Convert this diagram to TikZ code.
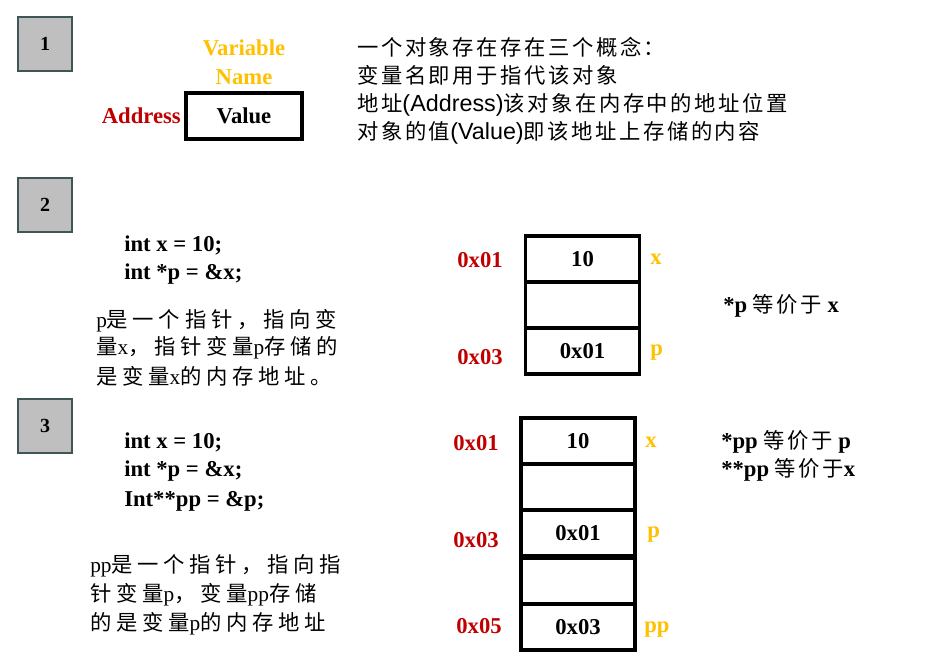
\documentclass[tikz,border=0pt]{standalone}
\usepackage{fontspec}
\setmainfont{Liberation Serif}
\newfontfamily\arial{Liberation Sans}
\newfontfamily\cjk[LetterSpace=12]{Noto Sans CJK SC}
\newfontfamily\cjkwide[LetterSpace=22]{Noto Sans CJK SC}
\usetikzlibrary{positioning}

\definecolor{addrred}{RGB}{192,0,0}
\definecolor{namegold}{RGB}{255,192,0}
\definecolor{stepgray}{RGB}{191,191,191}
\definecolor{stepedge}{RGB}{64,86,86}

\tikzset{
  numbox/.style={draw=stepedge, fill=stepgray, line width=1pt, minimum width=40.5pt,
    minimum height=40.5pt, inner sep=0pt, font=\fontsize{15}{18}\selectfont\bfseries},
  cell/.style={draw, line width=2.3pt, minimum width=85.5pt, minimum height=34.5pt,
    inner sep=0pt, outer sep=0pt, font=\fontsize{17}{20}\selectfont\bfseries},
  addr/.style={text=addrred, inner sep=0pt, font=\fontsize{17}{20}\selectfont\bfseries},
  varname/.style={text=namegold, inner sep=0pt, font=\fontsize{17}{20}\selectfont\bfseries},
  code/.style={anchor=west, inner sep=0pt, font=\fontsize{17}{20}\selectfont\bfseries},
  concept/.style={anchor=west, inner sep=0pt, font=\fontsize{16}{20}\selectfont\cjk},
  note/.style={anchor=west, inner sep=0pt, font=\fontsize{16}{20}\selectfont},
}

\newcommand{\lat}[1]{{\arial\fontsize{17.5}{20}\selectfont #1}}
\newcommand{\zh}[1]{{\cjkwide #1}}
\newcommand{\zheq}[1]{{\cjk\mdseries\fontsize{16}{20}\selectfont #1}}

\begin{document}
\begin{tikzpicture}[x=0.75pt, y=-0.75pt]
  \useasboundingbox (0,0) rectangle (942,661);

  % step boxes
  \node[numbox] (one) at (45,44) {1};
  \node[numbox] (two) at (45,205) {2};
  \node[numbox] (three) at (45,426) {3};

  % part 1: name, address and value
  \node[varname, align=center] (vname) at (244,62) {Variable\\[1.5pt]Name};
  \node[cell, minimum width=87pt] (value) at (244,116) {Value};
  \node[addr, anchor=east] (vaddr) at (181,116) {Address};

  \node[concept] (c1) at (357,47) {一个对象存在存在三个概念：};
  \node[concept] (c2) at (357,75) {变量名即用于指代该对象};
  \node[concept] (c3) at (357,105) {地址\lat{(Address)}该对象在内存中的地址位置};
  \node[concept] (c4) at (357,133) {对象的值\lat{(Value)}即该地址上存储的内容};

  % part 2: pointer p
  \node[code] (code2a) at (124,245) {int x = 10;};
  \node[code] (code2b) at (124,274) {int *p = \&x;};

  \node[note] (note2a) at (96,321) {p\zh{是一个指针，指向变}};
  \node[note] (note2b) at (96,348) {\zh{量}x\zh{，指针变量}p\zh{存储的}};
  \node[note] (note2c) at (96,376) {\zh{是变量}x\zh{的内存地址。}};

  \node[cell] (m2a) at (582.5,259) {10};
  \node[cell, below=0pt of m2a] (m2b) {};
  \node[cell, below=0pt of m2b] (m2c) {0x01};

  \node[addr] (a2a) at (480,260) {0x01};
  \node[addr] (a2c) at (480,357) {0x03};
  \node[varname, anchor=west] (n2a) at (650,259) {x};
  \node[varname, anchor=west] (n2c) at (650,353) {p};

  \node[code] (eq2) at (723,306) {*p \zheq{等价于} x};

  % part 3: pointer to pointer pp
  \node[code] (code3a) at (124,442) {int x = 10;};
  \node[code] (code3b) at (124,471) {int *p = \&x;};
  \node[code] (code3c) at (124,501) {Int**pp = \&p;};

  \node[note] (note3a) at (90,566) {pp\zh{是一个指针，指向指}};
  \node[note] (note3b) at (90,595) {\zh{针变量}p\zh{，变量}pp\zh{存储}};
  \node[note] (note3c) at (90,624) {\zh{的是变量}p\zh{的内存地址}};

  \node[cell] (m3a) at (578,441) {10};
  \node[cell, below=0pt of m3a] (m3b) {};
  \node[cell, below=0pt of m3b] (m3c) {0x01};
  \node[cell, below=1.5pt of m3c] (m3d) {};
  \node[cell, below=0pt of m3d] (m3e) {0x03};

  \node[addr] (a3a) at (476,443) {0x01};
  \node[addr] (a3c) at (476,540) {0x03};
  \node[addr] (a3e) at (479,626) {0x05};
  \node[varname, anchor=west] (n3a) at (645,442) {x};
  \node[varname, anchor=west] (n3c) at (647,535) {p};
  \node[varname, anchor=west] (n3e) at (644,630) {pp};

  \node[code] (eq3a) at (721,442) {*pp \zheq{等价于} p};
  \node[code] (eq3b) at (721,470) {**pp \zheq{等价于}x};
\end{tikzpicture}
\end{document}
